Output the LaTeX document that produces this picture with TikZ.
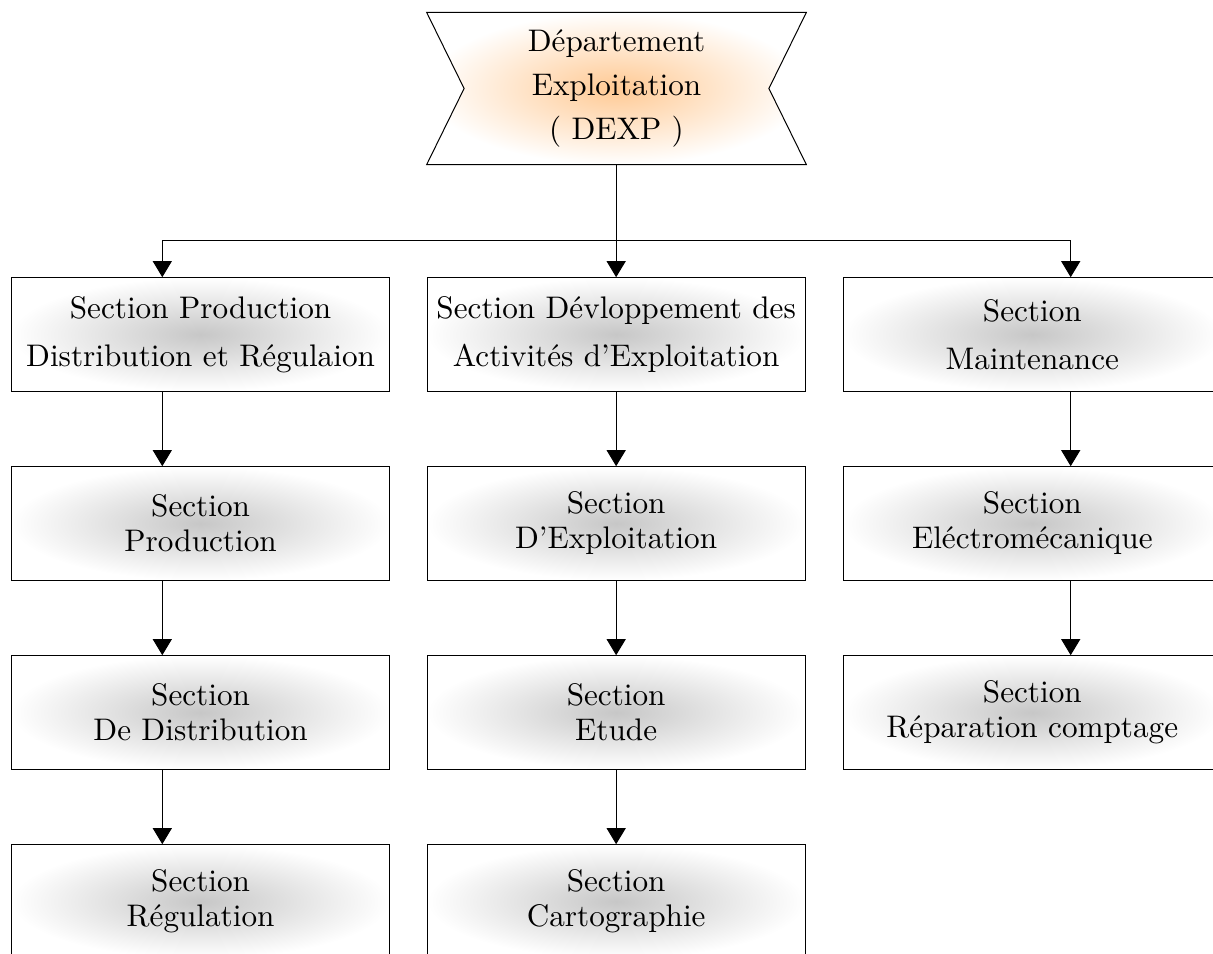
\documentclass[tikz,border=0pt]{standalone}
\usepackage{fontspec}
\setmainfont{lmroman10-regular.otf}
\usetikzlibrary{arrows.meta,backgrounds}

\tikzset{
  secbox/.style={draw=black, line width=0.5pt, rectangle,
    minimum width=189pt, minimum height=56.75pt, inner sep=0pt,
    inner color=black!22, outer color=white, align=center,
    font=\fontsize{15.6}{17.5}\selectfont},
  headbox/.style={secbox, font=\fontsize{15.6}{23.85}\selectfont},
  toptext/.style={rectangle, minimum width=189.5pt, minimum height=75.8pt,
    inner sep=0pt, align=center, font=\fontsize{15.6}{22}\selectfont},
  banner/.style={draw=black, line width=0.5pt, inner color=orange!42, outer color=white},
  plain/.style={line width=0.5pt},
  link/.style={line width=0.5pt, -{Triangle[width=9.5pt,length=8pt]}},
}

\begin{document}
\begin{tikzpicture}[x=0.5pt, y=-0.5pt]
\useasboundingbox (0,0) rectangle (1213,953);

% department banner
\node[toptext] (dexp) at (616.5,88.5) {Département\\Exploitation\\( DEXP )};
\begin{scope}[on background layer]
  \draw[banner] (dexp.north west) -- (dexp.north east) -- ([xshift=-18.75pt]dexp.east)
    -- (dexp.south east) -- (dexp.south west) -- ([xshift=18.75pt]dexp.west) -- cycle;
\end{scope}

% first level sections
\node[headbox] (a1) at (200.6,334.45) {Section Production\\Distribution et Régulaion};
\node[headbox] (b1) at (616.15,334.45) {Section Dévloppement des\\Activités d’Exploitation};
\node[headbox] (c1) at (1032.3,334.45) {Section\\Maintenance};

% second level
\node[secbox] (a2) at (200.6,523.45) {Section\\Production};
\node[secbox] (b2) at (616.15,523.45) {Section\\D’Exploitation};
\node[secbox] (c2) at (1032.3,523.45) {Section\\Eléctromécanique};

% third level
\node[secbox] (a3) at (200.6,712.45) {Section\\De Distribution};
\node[secbox] (b3) at (616.15,712.45) {Section\\Etude};
\node[secbox] (c3) at (1032.3,712.45) {Section\\Réparation comptage};

% fourth level
\node[secbox] (a4) at (200.6,901.45) {Section\\Régulation};
\node[secbox] (b4) at (616.15,901.45) {Section\\Cartographie};

% branching points
\coordinate (ca) at (162.3,240);
\coordinate (cb) at (616.15,240);
\coordinate (cc) at (1070.7,240);

\draw[plain] (dexp.south -| cb) -- (cb);
\draw[plain] (ca) -- (cc);
\draw[link] (ca) -- (a1.north -| ca);
\draw[link] (cb) -- (b1.north);
\draw[link] (cc) -- (c1.north -| cc);

\draw[link] (a1.south -| ca) -- (a2.north -| ca);
\draw[link] (a2.south -| ca) -- (a3.north -| ca);
\draw[link] (a3.south -| ca) -- (a4.north -| ca);

\draw[link] (b1.south) -- (b2.north);
\draw[link] (b2.south) -- (b3.north);
\draw[link] (b3.south) -- (b4.north);

\draw[link] (c1.south -| cc) -- (c2.north -| cc);
\draw[link] (c2.south -| cc) -- (c3.north -| cc);
\end{tikzpicture}
\end{document}
